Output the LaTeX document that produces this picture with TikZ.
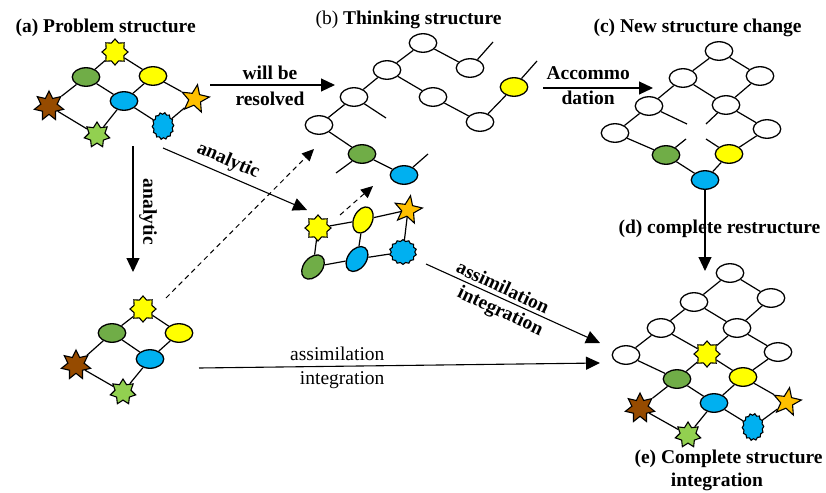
\documentclass[tikz,border=0pt]{standalone}
\usepackage{fontspec}
\setmainfont{Liberation Serif}
\usetikzlibrary{shapes.geometric,arrows.meta}
\definecolor{cgreen}{HTML}{70AD47}
\definecolor{cyellow}{HTML}{FFFF00}
\definecolor{cblue}{HTML}{00B0F0}
\definecolor{cbrown}{HTML}{964B00}
\definecolor{clgreen}{HTML}{92D050}
\definecolor{corange}{HTML}{FFC000}
\begin{document}
\begin{tikzpicture}[x=1pt,y=-1pt,
  every node/.style={font=\fontsize{19.5}{23}\selectfont},
  ell/.style={ellipse,draw,line width=1.3pt,minimum width=27.5pt,minimum height=18.5pt,inner sep=0pt},
  wn/.style={ell,fill=white},
  gn/.style={ell,fill=cgreen},
  yn/.style={ell,fill=cyellow},
  bn/.style={ell,fill=cblue},
  shp/.style={draw,line width=1.1pt,inner sep=0pt,star},
  ys/.style={shp,star points=8,star point ratio=1.35,fill=cyellow,minimum size=26pt},
  brs/.style={shp,star points=7,star point ratio=1.8,fill=cbrown,minimum size=30pt},
  lgs/.style={shp,star points=7,star point ratio=1.6,fill=clgreen,minimum size=26pt},
  os/.style={shp,star points=5,star point ratio=2.3,fill=corange,minimum size=29pt,rotate=-10},
  bj/.style={shp,star points=14,star point ratio=1.15,fill=cblue,minimum size=27pt},
  ed/.style={line width=1.2pt},
  arr/.style={line width=1.1pt,-{Triangle[length=14pt,width=13pt]}},
  darr/.style={line width=1pt,dash pattern=on 5pt off 4pt,-{Triangle[length=12pt,width=11pt]}},
  lbl/.style={font=\fontsize{19.5}{23}\selectfont\bfseries},
  txt/.style={font=\fontsize{19.5}{23}\selectfont},
]
\useasboundingbox (0,0) rectangle (826,492);

% ---------- (a) ----------
\node[lbl,anchor=base west] (ta) at (12,33) {(a) Problem structure};
\node[ys] (a1) at (115,52) {};
\node[gn] (a2) at (86,77) {};
\node[yn] (a3) at (153,76) {};
\node[brs] (a4) at (49,106) {};
\node[bn] (a5) at (124,101) {};
\node[os] (a6) at (195,99) {};
\node[lgs] (a7) at (97,135) {};
\node[bj,xscale=0.8,rotate=-10] (a8) at (163,126) {};
\foreach \u/\v in {a1/a2,a1/a3,a2/a4,a2/a5,a3/a5,a3/a6,a4/a7,a5/a7,a5/a8,a8/a6}
  \draw[ed] (\u) -- (\v);

% ---------- lower-left copy ----------
\node[ys] (f1) at (143,309) {};
\node[gn] (f2) at (112,333) {};
\node[yn] (f3) at (179,333) {};
\node[brs] (f4) at (76,365) {};
\node[bn] (f5) at (150,359) {};
\node[lgs] (f7) at (123,392) {};
\foreach \u/\v in {f1/f2,f1/f3,f2/f4,f2/f5,f3/f5,f4/f7,f5/f7}
  \draw[ed] (\u) -- (\v);

% ---------- (b) ----------
\node[anchor=base west] (tb) at (312,25) {(b) \textbf{Thinking structure}};
\node[wn] (b1) at (423,43) {};
\node[wn] (b2) at (470,68) {};
\node[wn] (b3) at (387,70) {};
\node[wn] (b4) at (433,97) {};
\node[wn] (b5) at (480,122) {};
\node[yn] (b6) at (514,87) {};
\node[wn] (b7) at (354,97) {};
\node[wn] (b8) at (319,125) {};
\node[gn] (b9) at (362,154) {};
\node[bn] (b10) at (404,175) {};
\foreach \u/\v in {b1/b2,b1/b3,b3/b4,b4/b5,b5/b6,b3/b7,b7/b8,b8/b9,b9/b10}
  \draw[ed] (\u) -- (\v);
\coordinate (s1) at (493,42);
\coordinate (s2) at (537,61);
\coordinate (s3) at (386,118);
\coordinate (s4) at (336,173);
\coordinate (s5) at (428,154);
\draw[ed] (b2) -- (s1);
\draw[ed] (b6) -- (s2);
\draw[ed] (b7) -- (s3);
\draw[ed] (b9) -- (s4);
\draw[ed] (b10) -- (s5);

% lower (b) part
\node[ys] (g1) at (318,228) {};
\node[yn,rotate=65] (g2) at (363,220) {};
\node[os] (g3) at (408,210) {};
\node[gn,rotate=50] (g4) at (313,267) {};
\node[bn,rotate=55] (g5) at (357,259) {};
\node[bj,yscale=0.92] (g6) at (403,252) {};
\foreach \u/\v in {g1/g2,g2/g3,g1/g4,g2/g5,g3/g6,g4/g5,g5/g6}
  \draw[ed] (\u) -- (\v);

% ---------- (c) ----------
\node[lbl,anchor=base west] (tc) at (590,33) {(c) New structure change};
\node[wn] (c1) at (719,51) {};
\node[wn] (c2) at (683,78) {};
\node[wn] (c3) at (760,76) {};
\node[wn] (c4) at (649,106) {};
\node[wn] (c5) at (726,105) {};
\node[wn] (c6) at (615,133) {};
\node[wn] (c7) at (767,129) {};
\node[gn] (c8) at (666,155) {};
\node[yn] (c9) at (729,154) {};
\node[bn] (c10) at (705,180) {};
\foreach \u/\v in {c1/c2,c1/c3,c2/c4,c2/c5,c3/c5,c4/c6,c6/c8,c8/c10,c10/c9,c9/c7,c5/c7}
  \draw[ed] (\u) -- (\v);
\coordinate (t1) at (687,124);
\coordinate (t2) at (706,124);
\coordinate (t3) at (686,139);
\coordinate (t4) at (706,139);
\draw[ed] (c4) -- (t1);
\draw[ed] (c5) -- (t2);
\draw[ed] (c8) -- (t3);
\draw[ed] (c9) -- (t4);

% ---------- (e) ----------
\node[wn] (e1) at (730,273) {};
\node[wn] (e2) at (694,302) {};
\node[wn] (e3) at (771,298) {};
\node[wn] (e4) at (661,328) {};
\node[wn] (e5) at (737,328) {};
\node[wn] (e6) at (626,355) {};
\node[ys] (e7) at (707,354) {};
\node[wn] (e8) at (778,352) {};
\node[gn] (e9) at (677,379) {};
\node[yn] (e10) at (743,377) {};
\node[brs] (e11) at (640,408) {};
\node[bn] (e12) at (714,403) {};
\node[os] (e13) at (787,402) {};
\node[lgs] (e14) at (688,435) {};
\node[bj,xscale=0.8,rotate=-10] (e15) at (753,427) {};
\foreach \u/\v in {e1/e2,e1/e3,e2/e4,e2/e5,e3/e5,e4/e6,e4/e7,e5/e7,e5/e8,e6/e9,e7/e9,e7/e10,e8/e10,e9/e11,e9/e12,e10/e12,e10/e13,e11/e14,e12/e14,e12/e15,e15/e13}
  \draw[ed] (\u) -- (\v);

\node[lbl,anchor=base west] (td) at (615,233) {(d) complete restructure};
\node[lbl,anchor=base west] (te1) at (631,463) {(e) Complete structure};
\node[lbl,anchor=base] (te2) at (717,486) {integration};

% ---------- arrows ----------
\coordinate (wr1) at (210,85);
\coordinate (wr2) at (335,85);
\draw[arr] (wr1) -- (wr2);
\node[lbl,anchor=base] (wl1) at (270,80) {will be};
\node[lbl,anchor=base] (wl2) at (270,106) {resolved};

\coordinate (ac1) at (543,88);
\coordinate (ac2) at (653,88);
\draw[arr] (ac1) -- (ac2);
\node[lbl,anchor=base west] (al1) at (543,80) {Accommo};
\node[lbl,anchor=base west] (al2) at (558,105) {dation};

\coordinate (an1) at (163,148);
\coordinate (an2) at (307,210);
\draw[arr] (an1) -- (an2);
\node[lbl,rotate=-23.5] (anl) at (228,161) {analytic};

\coordinate (av1) at (133,146);
\coordinate (av2) at (133,272);
\draw[arr] (av1) -- (av2);
\node[lbl,rotate=-90] (avl) at (148,212) {analytic};

\coordinate (d1s) at (166,298);
\coordinate (d1e) at (314,149);
\draw[darr] (d1s) -- (d1e);
\coordinate (d2s) at (340,215);
\coordinate (d2e) at (373,186);
\draw[darr] (d2s) -- (d2e);

\coordinate (h1) at (199,368);
\coordinate (h2) at (600,363);
\draw[arr] (h1) -- (h2);
\node[txt,anchor=base east] (hl1) at (388,360) {assimilation};
\node[txt,anchor=base east] (hl2) at (388,384) {integration};

\coordinate (q1) at (426,264);
\coordinate (q2) at (600,343);
\draw[arr] (q1) -- (q2);
\node[lbl,rotate=-25] (ql1) at (503,287) {assimilation};
\node[lbl,rotate=-25] (ql2) at (500,312) {integration};

\coordinate (dtip) at (705,271);
\draw[arr] (c10.south) -- (c10.south |- dtip);
\end{tikzpicture}
\end{document}
